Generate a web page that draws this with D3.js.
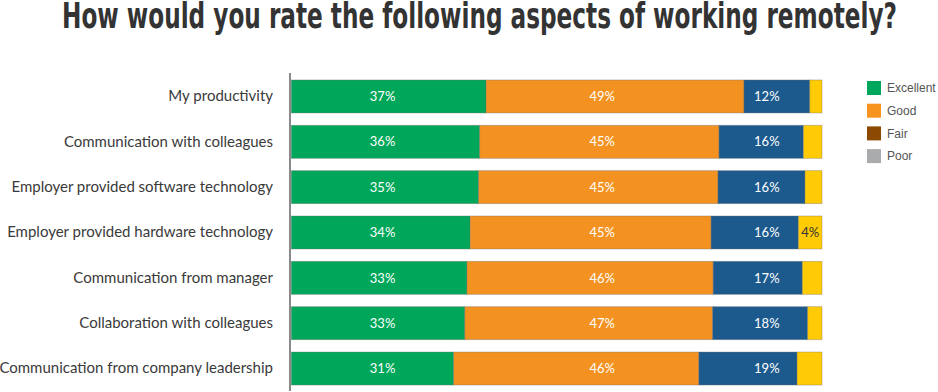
<!DOCTYPE html>
<html><head><meta charset="utf-8">
<script src="https://cdn.jsdelivr.net/npm/d3@7"></script>
<style>body{margin:0;background:#fff}svg{display:block}</style>
</head><body><svg id="c" width="938" height="392"></svg>
<script>
// ---- data ----
const title = "How would you rate the following aspects of working remotely?";
const categories = [
  "My productivity",
  "Communication with colleagues",
  "Employer provided software technology",
  "Employer provided hardware technology",
  "Communication from manager",
  "Collaboration with colleagues",
  "Communication from company leadership"
];
const seriesNames = ["Excellent", "Good", "Fair", "Poor"];
const excellent = [36.7, 35.5, 35.3, 33.7, 33.1, 32.7, 30.6];
const good      = [48.6, 45.1, 45.1, 45.4, 46.4, 46.7, 46.2];
const fair      = [12.4, 15.9, 16.4, 16.45, 16.8, 17.9, 18.5];
const poor      = [2.3, 3.5, 3.2, 4.45, 3.7, 2.7, 4.7];
const poorLabelShown = [false, false, false, true, false, false, false];
const barColors = ["#00a75a", "#f39221", "#1c5a8e", "#ffcb05"];
const legendColors = ["#00a65a", "#f7941d", "#8c4a00", "#aaabad"];

// ---- layout ----
const svg = d3.select("#c");
const x = d3.scaleLinear().domain([0, 100]).range([291.3, 822]);
const y = d3.scaleBand().domain(categories).range([73.8, 391.2])
  .paddingInner(0.272).paddingOuter(0.136);
const labelColumns = [17.2, 58.6, 89.6]; // fixed label positions in % units

const rows = categories.map((c, i) => ({
  category: c, Excellent: excellent[i], Good: good[i], Fair: fair[i], Poor: poor[i], idx: i
}));
const stacked = d3.stack().keys(seriesNames)(rows);

// title
svg.append("text")
  .attr("x", 479.5).attr("y", 28)
  .attr("text-anchor", "middle")
  .attr("font-family", "'DejaVu Sans Condensed', 'DejaVu Sans', sans-serif")
  .attr("font-weight", "bold")
  .attr("font-size", 35)
  .attr("fill", "#333333")
  .attr("textLength", 835)
  .attr("lengthAdjust", "spacingAndGlyphs")
  .text(title);

// bars
const g = svg.append("g");
stacked.forEach((s, si) => {
  g.selectAll(null).data(s).enter().append("rect")
    .attr("x", d => x(d[0]))
    .attr("y", d => y(d.data.category))
    .attr("width", d => x(d[1]) - x(d[0]))
    .attr("height", y.bandwidth())
    .attr("fill", barColors[si])
    .attr("stroke", "rgba(110,110,110,0.45)")
    .attr("stroke-width", 0.8);
});

// value labels
stacked.forEach((s, si) => {
  const sel = s.filter(d => si < 3 || poorLabelShown[d.data.idx]);
  g.selectAll(null).data(sel).enter().append("text")
    .attr("x", d => si < 3 ? x(labelColumns[si]) : (x(d[0]) + x(d[1])) / 2)
    .attr("y", d => y(d.data.category) + y.bandwidth() / 2)
    .attr("dy", "0.36em")
    .attr("text-anchor", "middle")
    .attr("font-family", "Lato, 'Open Sans', sans-serif")
    .attr("font-size", 13)
    .attr("fill", si < 3 ? "#ffffff" : "#333333")
    .text(d => Math.round(d[1] - d[0]) + "%");
});

// category axis
const yAxis = d3.axisLeft(y).tickSize(0).tickPadding(17);
const ax = svg.append("g").attr("transform", "translate(290,0)").call(yAxis);
ax.select(".domain").remove();
ax.selectAll("text")
  .attr("font-family", "Lato, 'Open Sans', sans-serif")
  .attr("font-size", 15)
  .attr("fill", "#3a3a3a");
svg.append("line")
  .attr("x1", 290).attr("x2", 290)
  .attr("y1", 73).attr("y2", 391)
  .attr("stroke", "#8a8a8a").attr("stroke-width", 2);

// legend
const lg = svg.append("g").attr("transform", "translate(867,81)");
seriesNames.forEach((n, i) => {
  const row = lg.append("g").attr("transform", `translate(0,${i * 22.7})`);
  row.append("rect").attr("width", 14).attr("height", 14).attr("fill", legendColors[i]);
  row.append("text").attr("x", 20).attr("y", 7).attr("dy", "0.35em")
    .attr("font-family", "'Liberation Sans', Arial, sans-serif")
    .attr("font-size", 12).attr("fill", "#555555").text(n);
});
</script>
</body></html>
